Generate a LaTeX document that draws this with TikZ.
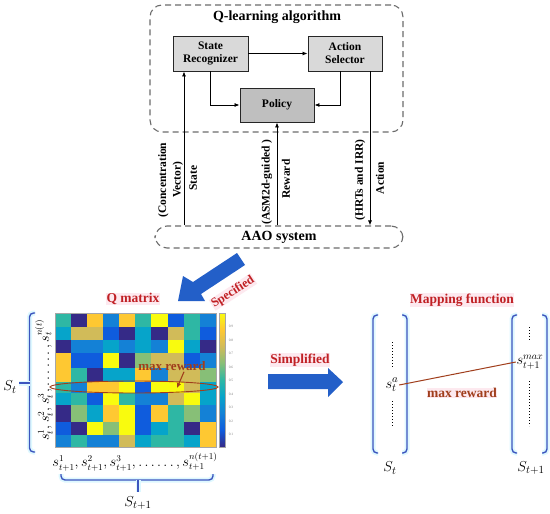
\documentclass[tikz,border=0pt]{standalone}
\usepackage{fontspec}
\setmainfont{Liberation Serif}
\usetikzlibrary{arrows.meta,shapes.geometric}
\definecolor{p0}{HTML}{352A87}
\definecolor{p1}{HTML}{0F5CDD}
\definecolor{p2}{HTML}{1481D6}
\definecolor{p3}{HTML}{06A4CA}
\definecolor{p4}{HTML}{2EB7A4}
\definecolor{p5}{HTML}{87BF77}
\definecolor{p6}{HTML}{D1BB59}
\definecolor{p7}{HTML}{FEC832}
\definecolor{p8}{HTML}{F9FB0E}
\definecolor{myred}{RGB}{192,32,36}
\definecolor{mypink}{RGB}{253,233,239}
\definecolor{brownc}{RGB}{160,62,28}
\definecolor{brkblue}{RGB}{60,85,190}
\definecolor{glow}{RGB}{222,248,255}
\definecolor{arrowblue}{RGB}{35,95,200}
\definecolor{boxgray}{RGB}{217,217,217}
\definecolor{polgray}{RGB}{191,191,191}
\newcommand\hmrow[3]{\foreach \c [count=\i] in {#3} {\fill[p\c] ({54.7+(\i-1)*16.13},#1) rectangle ({54.7+\i*16.13},#2);}}
\begin{document}
\begin{tikzpicture}[x=1pt,y=-1pt,
  qbox/.style={draw=black!85, line width=0.9pt, minimum width=75pt, minimum height=35pt, align=center, font=\fontsize{11.5}{13}\selectfont\bfseries, inner sep=1pt},
  dashbox/.style={draw=gray!85!black, dash pattern=on 6pt off 4pt, line width=1.1pt, rounded corners=12pt},
  conn/.style={-{Latex[length=5pt,width=4pt]}, line width=0.8pt},
  rlabel/.style={rotate=90, font=\fontsize{11.5}{14.5}\selectfont\bfseries, align=center, inner sep=0pt},
  redlabel/.style={text=myred, fill=mypink, font=\fontsize{13.5}{14}\selectfont\bfseries, inner sep=0.5pt},
  brk/.style={draw=brkblue, line width=1.4pt, rounded corners=4pt, preaction={draw=glow, line width=5pt}},
  fatarrow/.style={fill=arrowblue}
]
\useasboundingbox (0,0) rectangle (550,514);
\fill[white] (0,0) rectangle (550,514);

% ---------------- Q-learning block ----------------
\node[dashbox, minimum width=253pt, minimum height=127pt] (ql) at (276.5,68.5) {};
\node[font=\fontsize{14}{15}\selectfont\bfseries] (qltitle) at (277,17) {Q-learning algorithm};
\node[qbox, fill=boxgray] (sr) at (210.5,53.5) {State\\Recognizer};
\node[qbox, fill=boxgray, minimum width=74pt] (as) at (345,53.5) {Action\\Selector};
\node[qbox, fill=polgray, minimum width=74pt, minimum height=34pt] (pol) at (277,105) {Policy};
\node[dashbox, minimum width=248pt, minimum height=22pt, font=\fontsize{14}{15}\selectfont\bfseries] (aao) at (279,237) {AAO system};

\coordinate (xs) at (184,0);
\coordinate (xr) at (277,0);
\coordinate (xa) at (370,0);
\draw[conn] (sr.east) -- (as.west);
\draw[conn] (sr.south) |- (pol.west);
\draw[conn] ([xshift=-5pt]as.south) |- (pol.east);
\draw[conn] (aao.north -| xs) -- (sr.south -| xs);
\draw[conn] (aao.north -| xr) -- (pol.south -| xr);
\draw[conn] (as.south -| xa) -- (aao.north -| xa);

\node[rlabel] (lconc) at (170.5,180) {(Concentration\\Vector)};
\node[rlabel] (lstate) at (193,178) {State};
\node[rlabel] (lasm) at (267,182) {(ASM2d-guided )};
\node[rlabel] (lrew) at (286,179) {Reward};
\node[rlabel] (lhrt) at (360,180) {(HRTs and IRR)};
\node[rlabel] (lact) at (380,178) {Action};

% ---------------- Specified arrow ----------------
\fill[fatarrow] (237,253) -- (193,282) -- (183,276) -- (178,301) -- (205,301) -- (201,294) -- (245,265) -- cycle;
\node[redlabel, rotate=33, font=\fontsize{12.5}{13}\selectfont\bfseries] (spec) at (233,292) {Specified};

% ---------------- Q matrix ----------------
\node[redlabel] (qm) at (133,299) {Q matrix};
\hmrow{313}{326.7}{4,0,7,2,7,4,8,1,4,2}
\hmrow{326.7}{340}{3,6,6,1,0,3,0,6,4,1}
\hmrow{340}{353.3}{0,2,2,3,2,3,2,8,3,0}
\hmrow{353.3}{368.3}{7,1,1,8,0,5,6,6,1,2}
\hmrow{368.3}{381.7}{7,4,0,3,3,7,2,6,6,5}
\hmrow{381.7}{393.3}{4,2,7,7,8,1,8,8,6,3}
\hmrow{393.3}{405}{3,4,1,8,4,2,2,6,8,3}
\hmrow{405}{421.7}{0,5,3,7,8,1,7,4,5,2}
\hmrow{421.7}{435}{1,0,8,5,8,1,3,4,0,7}
\hmrow{435}{446.7}{2,4,2,2,6,3,4,4,3,7}
\draw[gray!70, line width=0.4pt] (54.7,313) rectangle (216,446.7);
% colorbar
\foreach \k [count=\kk] in {0,...,7} {
  \shade[bottom color=p\k, top color=p\kk] (219,{446.7-16.71*\k}) rectangle (225,{446.7-16.71*\kk});
}
\draw[gray!70, line width=0.4pt] (219,313) rectangle (225,446.7);
\foreach \v [count=\j] in {9,8,...,1} {
  \node[font=\fontsize{3.5}{4}\selectfont, text=gray, inner sep=0.5pt] at (231,{313+13.5*\j}) {0.\v};
}
\draw[brownc, line width=0.9pt] (134,387) ellipse [x radius=84pt, y radius=6pt];
\node[text=brownc, font=\fontsize{13}{14}\selectfont\bfseries, inner sep=1pt] (mr1) at (172,366) {max reward};
\coordinate (mrt) at (177,388);
\draw[-{Latex[length=5pt,width=4.5pt]}, brownc, line width=1.1pt] ([xshift=12pt]mr1.south) -- (mrt);

% left brace
\draw[brk] (35,313) -- (29.5,313) -- (29.5,452) -- (35,452);
\draw[brk] (29.5,383) -- (19,383);
\node[font=\fontsize{15}{15}\selectfont, inner sep=0.5pt] (stl) at (10,387) {$S_t$};
\node[rotate=90, font=\fontsize{13.5}{13.5}\selectfont, inner sep=0pt] (rowl) at (44,380) {$s_t^1,s_t^2,s_t^3,\ldots\ldots,s_t^{n(t)}$};
% bottom brace
\node[font=\fontsize{13.5}{13.5}\selectfont, inner sep=0pt] (coll) at (135,462) {$s_{t+1}^1,s_{t+1}^2,s_{t+1}^3,\ldots\ldots,s_{t+1}^{n(t+1)}$};
\draw[brk] (61,474) -- (61,480) -- (213,480) -- (213,474);
\draw[brk] (138,480) -- (138,492);
\node[font=\fontsize{15}{15}\selectfont, inner sep=0.5pt] (st1l) at (138,503) {$S_{t+1}$};

% ---------------- Simplified arrow ----------------
\node[redlabel] (simp) at (300,360) {Simplified};
\fill[fatarrow] (268,374) -- (328,374) -- (328,368) -- (343,382) -- (328,397) -- (328,389) -- (268,389) -- cycle;

% ---------------- Mapping function ----------------
\node[redlabel] (mapf) at (462,300) {Mapping function};
\draw[brk] (378,315) -- (373,315) -- (373,453) -- (378,453);
\draw[brk] (402,315) -- (407,315) -- (407,453) -- (402,453);
\draw[brk] (517,315) -- (512,315) -- (512,453) -- (517,453);
\draw[brk] (542,315) -- (547,315) -- (547,453) -- (542,453);
\node[font=\fontsize{15}{15}\selectfont, inner sep=0.5pt] (sa) at (392,385) {$s_t^a$};
\node[font=\fontsize{14.5}{15}\selectfont, inner sep=0.5pt] (smax) at (530,362) {$s_{t+1}^{max}$};
\draw[dotted, line width=1pt] (392,342) -- (392,368);
\draw[dotted, line width=1pt] (392,401) -- (392,426);
\draw[dotted, line width=1pt] (529,327) -- (529,340);
\draw[dotted, line width=1pt] (529,381) -- (529,426);
\draw[brownc, line width=1pt] (sa.east) -- (smax.west);
\node[redlabel, text=brownc] (mr2) at (462,393) {max reward};
\node[font=\fontsize{15}{15}\selectfont] (str) at (390,468) {$S_t$};
\node[font=\fontsize{15}{15}\selectfont] (st1r) at (531,468) {$S_{t+1}$};
\end{tikzpicture}
\end{document}
